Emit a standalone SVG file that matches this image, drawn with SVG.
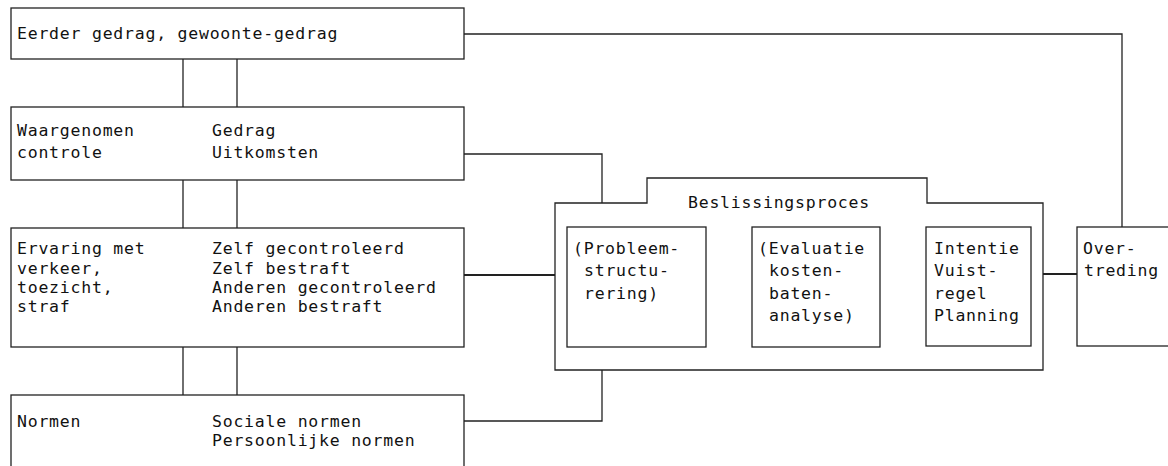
<svg xmlns="http://www.w3.org/2000/svg" width="1168" height="466" viewBox="0 0 1168 466">
<style>
.box{fill:#fff;stroke:#222;stroke-width:1.3}
.ln{fill:none;stroke:#222;stroke-width:1.3}
.thk{stroke-width:2}
text{font-family:"DejaVu Sans Mono","Liberation Mono",monospace;font-size:16.5px;letter-spacing:0.77px;fill:#111}
</style>
<rect width="1168" height="466" fill="#fff"/>
<g id="connectors">
<polyline class="ln" points="464,34 1122,34 1122,227"/>
<polyline class="ln" points="464,154 602,154 602,203"/>
<line class="ln thk" x1="464" y1="275" x2="555" y2="275"/>
<polyline class="ln" points="464,421 602,421 602,370"/>
<line class="ln" x1="183" y1="59" x2="183" y2="107"/>
<line class="ln" x1="237" y1="59" x2="237" y2="107"/>
<line class="ln" x1="183" y1="180" x2="183" y2="228"/>
<line class="ln" x1="237" y1="180" x2="237" y2="228"/>
<line class="ln" x1="183" y1="347" x2="183" y2="395"/>
<line class="ln" x1="237" y1="347" x2="237" y2="395"/>
<line class="ln" x1="706" y1="275" x2="752" y2="275"/>
<line class="ln" x1="880" y1="275" x2="926" y2="275"/>
<line class="ln thk" x1="1031" y1="274" x2="1077" y2="274"/>
</g>
<g id="eerder">
<rect class="box" x="11" y="8" width="453" height="51"/>
<text x="17" y="39">Eerder gedrag, gewoonte-gedrag</text>
</g>
<g id="waargenomen">
<rect class="box" x="11" y="107" width="453" height="73"/>
<text x="17" y="136">Waargenomen</text>
<text x="17" y="158">controle</text>
<text x="212" y="136">Gedrag</text>
<text x="212" y="158">Uitkomsten</text>
</g>
<g id="ervaring">
<rect class="box" x="11" y="228" width="453" height="119"/>
<text x="17" y="254">Ervaring met</text>
<text x="17" y="274">verkeer,</text>
<text x="17" y="293">toezicht,</text>
<text x="17" y="312">straf</text>
<text x="212" y="254">Zelf gecontroleerd</text>
<text x="212" y="274">Zelf bestraft</text>
<text x="212" y="293">Anderen gecontroleerd</text>
<text x="212" y="312">Anderen bestraft</text>
</g>
<g id="normen">
<rect class="box" x="11" y="395" width="453" height="80"/>
<text x="17" y="427">Normen</text>
<text x="212" y="427">Sociale normen</text>
<text x="212" y="446">Persoonlijke normen</text>
</g>
<g id="beslissingsproces">
<path class="box" d="M555,203 H647 V178 H927 V203 H1043 V370 H555 Z"/>
<text x="688" y="208">Beslissingsproces</text>
</g>
<g id="probleem">
<rect class="box" x="567" y="227" width="139" height="120"/>
<text x="573" y="254">(Probleem-</text>
<text x="584" y="276">structu-</text>
<text x="584" y="299">rering)</text>
</g>
<g id="evaluatie">
<rect class="box" x="752" y="227" width="128" height="120"/>
<text x="758" y="254">(Evaluatie</text>
<text x="769" y="276">kosten-</text>
<text x="769" y="299">baten-</text>
<text x="769" y="321">analyse)</text>
</g>
<g id="intentie">
<rect class="box" x="926" y="227" width="105" height="119"/>
<text x="934" y="254">Intentie</text>
<text x="934" y="276">Vuist-</text>
<text x="934" y="299">regel</text>
<text x="934" y="321">Planning</text>
</g>
<g id="overtreding">
<rect class="box" x="1077" y="227" width="100" height="119"/>
<text x="1083" y="254">Over-</text>
<text x="1084" y="276">treding</text>
</g>
</svg>
